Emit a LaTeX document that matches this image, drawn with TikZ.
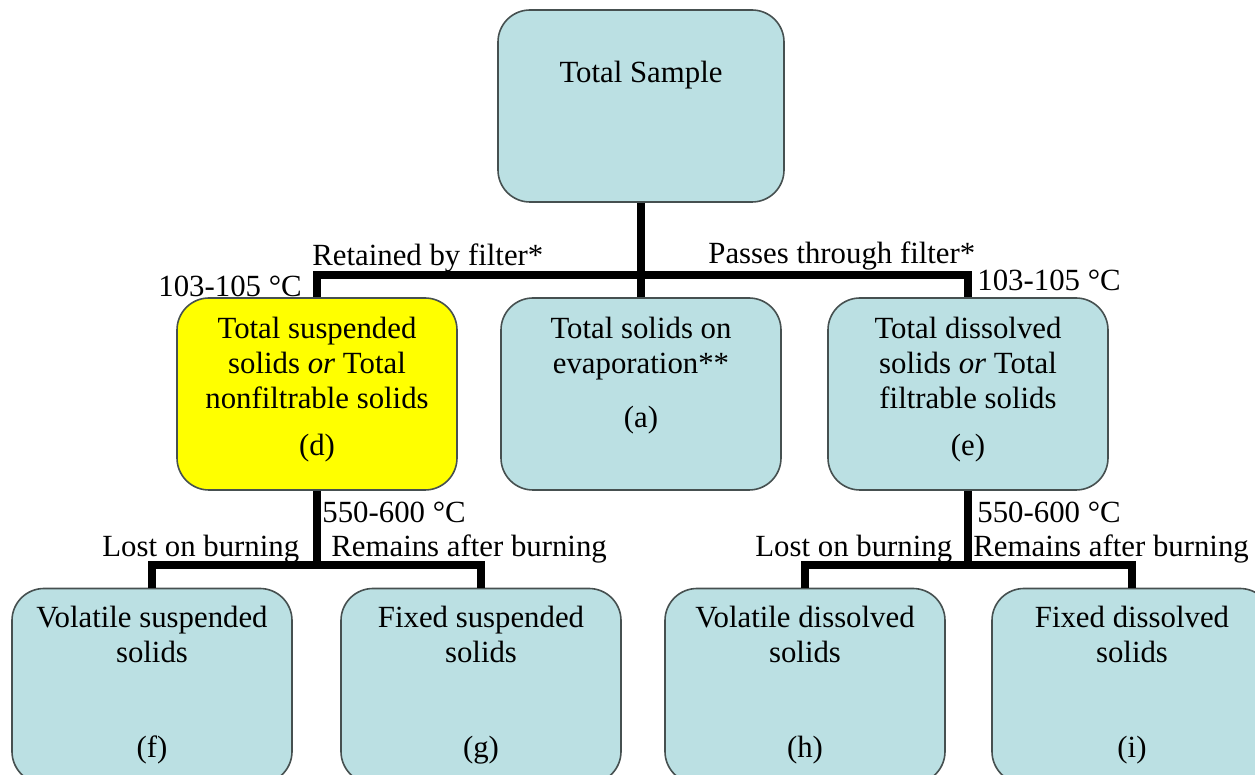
\documentclass[tikz,border=0pt]{standalone}
\usepackage{fontspec}
\setmainfont{Liberation Serif}
\usetikzlibrary{positioning}
\definecolor{boxblue}{RGB}{187,224,227}
\definecolor{boxyellow}{RGB}{255,255,0}
\definecolor{boxedge}{RGB}{70,80,80}

\begin{document}
\begin{tikzpicture}[x=0.5pt, y=-0.5pt,
  box/.style={draw=boxedge, line width=0.8pt, fill=boxblue, rounded corners=16pt,
    minimum width=140pt, minimum height=96pt, inner sep=0pt},
  txt/.style={align=center, inner sep=0pt, anchor=north,
    font=\fontsize{15.4}{17.5}\selectfont},
  lbl/.style={inner sep=0pt, anchor=base west, font=\fontsize{15.4}{17.5}\selectfont},
  conn/.style={line width=3.75pt, black}]
  \useasboundingbox (0,0) rectangle (1255,775);
  \clip (0,0) rectangle (1255,775);

  % boxes
  \node[box, minimum width=143pt] (smp) at (641,106) {};
  \node[box, fill=boxyellow] (tss) at (317,394) {};
  \node[box] (tse) at (641,394) {};
  \node[box] (tds) at (968,394) {};
  \node[box, minimum height=97.5pt] (vss) at (152,686) {};
  \node[box, minimum height=97.5pt] (fss) at (481,686) {};
  \node[box, minimum height=97.5pt] (vds) at (805,686) {};
  \node[box, minimum height=97.5pt] (fds) at (1132,686) {};

  % box texts
  \node[txt] (smp-t) at (641,61) {Total Sample};
  \node[txt] (tss-t) at (317,317) {Total suspended\\solids \emph{or} Total\\nonfiltrable solids\\[6pt](d)};
  \node[txt] (tse-t) at (641,317) {Total solids on\\evaporation**\\[9.5pt](a)};
  \node[txt] (tds-t) at (968,317) {Total dissolved\\solids \emph{or} Total\\filtrable solids\\[6pt](e)};
  \node[txt] (vss-t) at (152,606) {Volatile suspended\\solids\\[30pt](f)};
  \node[txt] (fss-t) at (481,606) {Fixed suspended\\solids\\[30pt](g)};
  \node[txt] (vds-t) at (805,606) {Volatile dissolved\\solids\\[30pt](h)};
  \node[txt] (fds-t) at (1132,606) {Fixed dissolved\\solids\\[30pt](i)};

  % connectors
  \coordinate (bus1) at (641,275);
  \coordinate (bus2) at (317,565);
  \coordinate (bus3) at (968,565);
  \draw[conn] (smp.south) -- (tse.north);
  \draw[conn] (tss.north) |- (bus1) -| (tds.north);
  \draw[conn] (tss.south) -- (bus2);
  \draw[conn] (vss.north) |- (bus2) -| (fss.north);
  \draw[conn] (tds.south) -- (bus3);
  \draw[conn] (vds.north) |- (bus3) -| (fds.north);

  % line labels
  \node[lbl] (ret) at (312,266) {Retained by filter*};
  \node[lbl] (pas) at (708,264) {Passes through filter*};
  \node[lbl] (tl) at (158,297) {103-105 °C};
  \node[lbl] (tr) at (977,291) {103-105 °C};
  \node[lbl] (bl) at (322,523) {550-600 °C};
  \node[lbl] (br) at (977,523) {550-600 °C};
  \node[lbl] (lostl) at (102,557) {Lost on burning};
  \node[lbl] (reml) at (331,557) {Remains after burning};
  \node[lbl] (lostr) at (755,557) {Lost on burning};
  \node[lbl] (remr) at (973,557) {Remains after burning};
\end{tikzpicture}
\end{document}
